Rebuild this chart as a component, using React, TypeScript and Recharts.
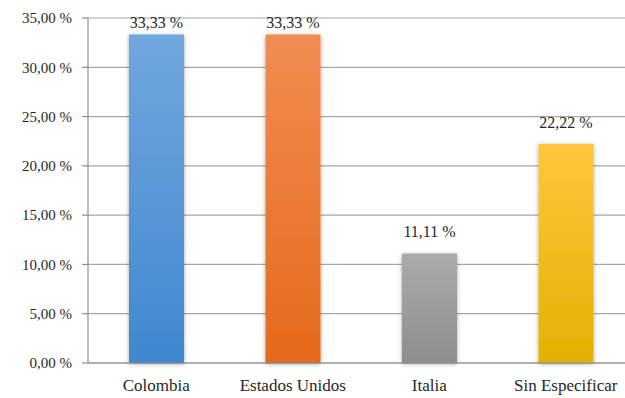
import { BarChart, Bar, XAxis, YAxis, CartesianGrid, Cell, LabelList } from "recharts";

const COUNTRIES = ["Colombia", "Estados Unidos", "Italia", "Sin Especificar"];
const SHARES = [33.33, 33.33, 11.11, 22.22];
const Y_TICKS = [0, 5, 10, 15, 20, 25, 30, 35];
const BOUNDARIES = [0, 1, 2, 3, 4];

const GRADIENTS = [
  ["#70a7dd", "#3f88cf"],
  ["#f28c52", "#e4691a"],
  ["#ababab", "#8d8d8d"],
  ["#ffc63e", "#e4b000"],
];

const data = COUNTRIES.map((name, i) => ({ name, value: SHARES[i], pos: i + 0.5 }));

const fmt = (v: number) => v.toFixed(2).replace(".", ",") + " %";

const FONT = "Liberation Serif, serif";
const TEXT = "#262626";

// Excel pulls labels down when they'd leave the plot area
function TopLabel(props: any) {
  const { x, y, width, value } = props;
  const baseline = Math.max(y - 16, 28);
  return (
    <text x={x + width / 2} y={baseline} textAnchor="middle" fontSize={16} style={{ fontFamily: FONT }} fill={TEXT}>
      {fmt(value)}
    </text>
  );
}

export default function App() {
  return (
    <div
      style={{
        position: "absolute",
        left: 0,
        top: 0,
        width: 625,
        height: 398,
        overflow: "hidden",
        background: "#fff",
        fontFamily: FONT,
      }}
    >
      <BarChart width={640} height={398} data={data} margin={{ top: 18, right: 6, left: 0, bottom: 5 }}>
        <defs>
          {GRADIENTS.map(([a, b], i) => (
            <linearGradient key={i} id={`g${i}`} x1="0" y1="0" x2="0" y2="1">
              <stop offset="0%" stopColor={a} />
              <stop offset="100%" stopColor={b} />
            </linearGradient>
          ))}
          <filter id="shadow" x="-20%" y="-5%" width="140%" height="110%">
            <feDropShadow dx="0" dy="1" stdDeviation="2" floodColor="#000" floodOpacity="0.35" />
          </filter>
        </defs>
        <CartesianGrid vertical={false} stroke="#a6a6a6" strokeWidth={1.2} />
        <XAxis
          dataKey="name"
          height={30}
          axisLine={{ stroke: "#8c8c8c", strokeWidth: 1.2 }}
          tickLine={false}
          tickSize={6}
          tickMargin={10}
          tick={{ fontSize: 17, fill: TEXT, style: { fontFamily: FONT } }}
          interval={0}
        />
        <XAxis
          xAxisId="b"
          type="number"
          dataKey="pos"
          domain={[0, 4]}
          ticks={BOUNDARIES}
          tick={false}
          tickSize={6}
          tickLine={{ stroke: "#8c8c8c", strokeWidth: 1.2 }}
          axisLine={false}
          height={0}
        />
        <YAxis
          width={88}
          domain={[0, 35]}
          ticks={Y_TICKS}
          tickFormatter={fmt}
          axisLine={{ stroke: "#8c8c8c", strokeWidth: 1.2 }}
          tickLine={{ stroke: "#8c8c8c", strokeWidth: 1.2 }}
          tickSize={6}
          tickMargin={10}
          tick={{ fontSize: 15, fill: TEXT, style: { fontFamily: FONT } }}
          interval={0}
        />
        <Bar dataKey="value" barSize={55} isAnimationActive={false} filter="url(#shadow)">
          {data.map((d, i) => (
            <Cell key={d.name} fill={`url(#g${i})`} />
          ))}
          <LabelList dataKey="value" content={<TopLabel />} />
        </Bar>
      </BarChart>
    </div>
  );
}
